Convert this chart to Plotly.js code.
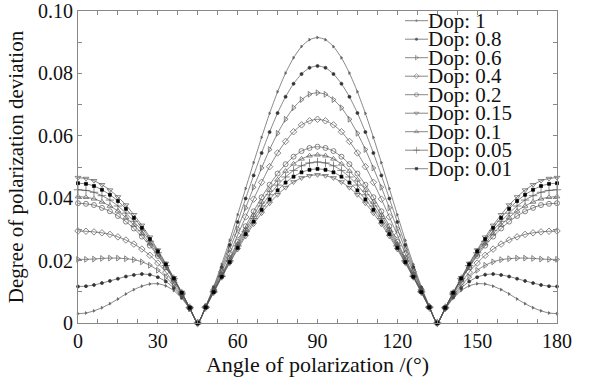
<!DOCTYPE html>
<html>
<head>
<meta charset="utf-8">
<script src="https://cdn.plot.ly/plotly-3.0.1.min.js"></script>
<style>html,body{margin:0;padding:0;background:#fff;}#chart{width:593px;height:382px;}</style>
</head>
<body>
<div id="chart"></div>
<script>
// Angle of polarization (degrees), sampled every 3 degrees
const angles = [0,3,6,9,12,15,18,21,24,27,30,33,36,39,42,45,48,51,54,57,60,63,66,69,72,75,78,81,84,87,90,
  93,96,99,102,105,108,111,114,117,120,123,126,129,132,135,138,141,144,147,150,153,156,159,162,165,168,171,174,177,180];

const seriesNames = ["Dop: 1","Dop: 0.8","Dop: 0.6","Dop: 0.4","Dop: 0.2","Dop: 0.15","Dop: 0.1","Dop: 0.05","Dop: 0.01"];

const dop1 = [0.0030,0.0032,0.0039,0.0049,0.0062,0.0077,0.0093,0.0107,0.0118,0.0125,0.0126,0.0119,0.0104,0.0079,0.0045,0,0.0054,0.0117,0.0188,0.0265,0.0347,0.0431,0.0514,0.0595,0.0672,0.0741,0.0801,0.0850,0.0886,0.0908,0.0915,
  0.0908,0.0886,0.0850,0.0801,0.0741,0.0672,0.0595,0.0514,0.0431,0.0347,0.0265,0.0188,0.0117,0.0054,0,0.0045,0.0079,0.0104,0.0119,0.0126,0.0125,0.0118,0.0107,0.0093,0.0077,0.0062,0.0049,0.0039,0.0032,0.0030];
const dop08 = [0.0117,0.0118,0.0122,0.0128,0.0135,0.0142,0.0149,0.0154,0.0157,0.0155,0.0147,0.0133,0.0112,0.0083,0.0045,0,0.0053,0.0113,0.0179,0.0250,0.0324,0.0399,0.0473,0.0545,0.0612,0.0673,0.0725,0.0767,0.0798,0.0818,0.0824,
  0.0818,0.0798,0.0767,0.0725,0.0673,0.0612,0.0545,0.0473,0.0399,0.0324,0.0250,0.0179,0.0113,0.0053,0,0.0045,0.0083,0.0112,0.0133,0.0147,0.0155,0.0157,0.0154,0.0149,0.0142,0.0135,0.0128,0.0122,0.0118,0.0117];
const dop06 = [0.0204,0.0204,0.0205,0.0207,0.0208,0.0208,0.0206,0.0203,0.0196,0.0185,0.0169,0.0147,0.0120,0.0086,0.0046,0,0.0052,0.0109,0.0171,0.0236,0.0302,0.0369,0.0435,0.0497,0.0556,0.0608,0.0653,0.0690,0.0716,0.0733,0.0738,
  0.0733,0.0716,0.0690,0.0653,0.0608,0.0556,0.0497,0.0435,0.0369,0.0302,0.0236,0.0171,0.0109,0.0052,0,0.0046,0.0086,0.0120,0.0147,0.0169,0.0185,0.0196,0.0203,0.0206,0.0208,0.0208,0.0207,0.0205,0.0204,0.0204];
const dop04 = [0.0295,0.0294,0.0292,0.0289,0.0284,0.0276,0.0266,0.0253,0.0237,0.0217,0.0192,0.0163,0.0129,0.0091,0.0048,0,0.0052,0.0106,0.0164,0.0222,0.0282,0.0340,0.0397,0.0451,0.0501,0.0545,0.0582,0.0613,0.0635,0.0648,0.0653,
  0.0648,0.0635,0.0613,0.0582,0.0545,0.0501,0.0451,0.0397,0.0340,0.0282,0.0222,0.0164,0.0106,0.0052,0,0.0048,0.0091,0.0129,0.0163,0.0192,0.0217,0.0237,0.0253,0.0266,0.0276,0.0284,0.0289,0.0292,0.0294,0.0295];
const dop02 = [0.0384,0.0382,0.0378,0.0369,0.0358,0.0343,0.0325,0.0303,0.0277,0.0248,0.0215,0.0178,0.0138,0.0095,0.0049,0,0.0051,0.0103,0.0155,0.0208,0.0260,0.0310,0.0358,0.0403,0.0443,0.0479,0.0509,0.0533,0.0551,0.0561,0.0565,
  0.0561,0.0551,0.0533,0.0509,0.0479,0.0443,0.0403,0.0358,0.0310,0.0260,0.0208,0.0155,0.0103,0.0051,0,0.0049,0.0095,0.0138,0.0178,0.0215,0.0248,0.0277,0.0303,0.0325,0.0343,0.0358,0.0369,0.0378,0.0382,0.0384];
const dop015 = [0.0466,0.0463,0.0456,0.0443,0.0426,0.0404,0.0378,0.0347,0.0313,0.0275,0.0234,0.0191,0.0145,0.0098,0.0049,0,0.0049,0.0098,0.0146,0.0192,0.0236,0.0278,0.0317,0.0352,0.0384,0.0411,0.0434,0.0452,0.0465,0.0472,0.0475,
  0.0472,0.0465,0.0452,0.0434,0.0411,0.0384,0.0352,0.0317,0.0278,0.0236,0.0192,0.0146,0.0098,0.0049,0,0.0049,0.0098,0.0145,0.0191,0.0234,0.0275,0.0313,0.0347,0.0378,0.0404,0.0426,0.0443,0.0456,0.0463,0.0466];
const dop01 = [0.0405,0.0403,0.0398,0.0388,0.0375,0.0359,0.0338,0.0314,0.0286,0.0254,0.0219,0.0181,0.0139,0.0095,0.0049,0,0.0050,0.0101,0.0152,0.0203,0.0253,0.0301,0.0346,0.0388,0.0426,0.0459,0.0487,0.0510,0.0526,0.0536,0.0539,
  0.0536,0.0526,0.0510,0.0487,0.0459,0.0426,0.0388,0.0346,0.0301,0.0253,0.0203,0.0152,0.0101,0.0050,0,0.0049,0.0095,0.0139,0.0181,0.0219,0.0254,0.0286,0.0314,0.0338,0.0359,0.0375,0.0388,0.0398,0.0403,0.0405];
const dop005 = [0.0427,0.0425,0.0419,0.0408,0.0394,0.0375,0.0352,0.0326,0.0296,0.0262,0.0225,0.0184,0.0142,0.0096,0.0049,0,0.0050,0.0100,0.0150,0.0199,0.0247,0.0293,0.0335,0.0375,0.0411,0.0442,0.0468,0.0489,0.0504,0.0513,0.0516,
  0.0513,0.0504,0.0489,0.0468,0.0442,0.0411,0.0375,0.0335,0.0293,0.0247,0.0199,0.0150,0.0100,0.0050,0,0.0049,0.0096,0.0142,0.0184,0.0225,0.0262,0.0296,0.0326,0.0352,0.0375,0.0394,0.0408,0.0419,0.0425,0.0427];
const dop001 = [0.0448,0.0446,0.0439,0.0427,0.0411,0.0391,0.0366,0.0337,0.0305,0.0269,0.0230,0.0188,0.0143,0.0097,0.0049,0,0.0050,0.0099,0.0148,0.0195,0.0241,0.0285,0.0325,0.0363,0.0396,0.0425,0.0450,0.0469,0.0483,0.0491,0.0494,
  0.0491,0.0483,0.0469,0.0450,0.0425,0.0396,0.0363,0.0325,0.0285,0.0241,0.0195,0.0148,0.0099,0.0050,0,0.0049,0.0097,0.0143,0.0188,0.0230,0.0269,0.0305,0.0337,0.0366,0.0391,0.0411,0.0427,0.0439,0.0446,0.0448];

const xTickVals = [0,30,60,90,120,150,180];
const xTickText = ["0","30","60","90","120","150","180"];
const yTickVals = [0,0.02,0.04,0.06,0.08,0.10];
const yTickText = ["0","0.02","0.04","0.06","0.08","0.10"];

const seriesValues = [dop1,dop08,dop06,dop04,dop02,dop015,dop01,dop005,dop001];
const markerStyles = [
  {symbol:'triangle-right', size:2.5, color:'#666'},
  {symbol:'circle', size:3, color:'#333'},
  {symbol:'triangle-right-open', size:5, color:'#555'},
  {symbol:'diamond-open', size:5, color:'#555'},
  {symbol:'circle-open', size:5, color:'#555'},
  {symbol:'triangle-down-open', size:5, color:'#555'},
  {symbol:'triangle-up-open', size:5, color:'#555'},
  {symbol:'cross-thin-open', size:6, color:'#555'},
  {symbol:'square', size:3, color:'#000'}
];

const FONT = '"Liberation Serif", "Times New Roman", serif';
const traces = [];
seriesValues.forEach((vals, i) => {
  const ms = markerStyles[i];
  traces.push({
    x: angles, y: vals, type: 'scatter', mode: 'lines+markers',
    name: seriesNames[i], showlegend: false,
    line: {color: '#555', width: 0.7, shape: 'spline', smoothing: 0.6},
    marker: {symbol: ms.symbol, size: ms.size, color: ms.color, line: {color: ms.color, width: 0.7}},
    cliponaxis: false
  });
});

// Manual legend drawn on an overlay axis with pixel-like coordinates
const legendTop = 20.7, legendStep = 18.5;
const annotations = [];
seriesNames.forEach((nm, i) => {
  const ms = markerStyles[i];
  const yy = legendTop + i * legendStep;
  traces.push({
    x: [405, 416.5, 428], y: [yy, yy, yy], xaxis: 'x2', yaxis: 'y2',
    type: 'scatter', mode: 'lines+markers', showlegend: false, hoverinfo: 'skip',
    line: {color: '#555', width: 0.7},
    marker: {symbol: ms.symbol, size: [0, ms.size * 0.8, 0], color: ms.color, line: {color: ms.color, width: 0.7}}
  });
  annotations.push({
    xref: 'x2', yref: 'y2', x: 426, y: yy, xanchor: 'left', yanchor: 'middle',
    text: nm, showarrow: false, font: {family: FONT, size: 21, color: '#111'}
  });
});

const axisCommon = {
  showgrid: false, zeroline: false, showline: true, linecolor: '#888', linewidth: 1,
  mirror: 'ticks', ticks: 'inside', ticklen: 4, tickcolor: '#888', tickwidth: 1,
  tickfont: {family: FONT, size: 20, color: '#111'}
};

const layout = {
  width: 593, height: 382,
  margin: {l: 78, r: 36, t: 11, b: 59},
  paper_bgcolor: '#fff', plot_bgcolor: '#fff',
  showlegend: false,
  xaxis: Object.assign({}, axisCommon, {
    range: [0, 180], tickmode: 'array', tickvals: xTickVals, ticktext: xTickText,
    minor: {tickmode: 'linear', tick0: 0, dtick: 7.5, ticks: 'inside', ticklen: 4, tickcolor: '#888', showgrid: false},
    title: {text: 'Angle of polarization /(°)', font: {family: FONT, size: 22, color: '#111'}, standoff: 3}
  }),
  yaxis: Object.assign({}, axisCommon, {
    range: [0, 0.1], tickmode: 'array', tickvals: yTickVals, ticktext: yTickText,
    minor: {tickmode: 'linear', tick0: 0, dtick: 0.01, ticks: 'inside', ticklen: 4, tickcolor: '#888', showgrid: false},
    title: {text: 'Degree of polarization deviation', font: {family: FONT, size: 21, color: '#111'}, standoff: 8}
  }),
  xaxis2: {overlaying: 'x', anchor: 'y2', range: [78, 557], visible: false, fixedrange: true},
  yaxis2: {overlaying: 'y', anchor: 'x2', range: [323, 11], visible: false, fixedrange: true},
  annotations: annotations
};

Plotly.newPlot('chart', traces, layout, {displayModeBar: false, staticPlot: true});
</script>
</body>
</html>
